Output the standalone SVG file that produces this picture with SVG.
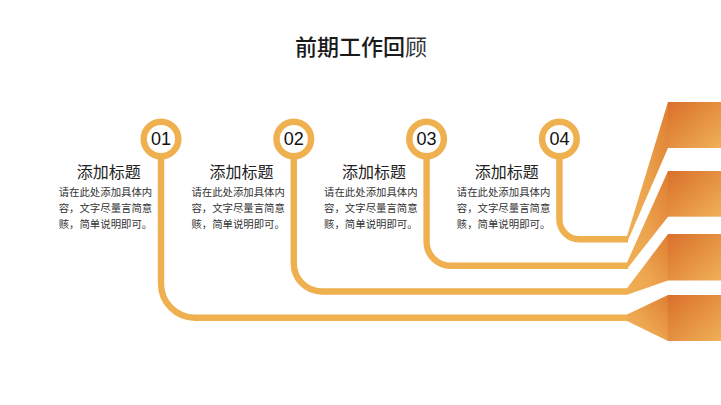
<svg xmlns="http://www.w3.org/2000/svg" width="721" height="405" viewBox="0 0 721 405">
<defs>
<linearGradient id="gBlock" x1="0" y1="0" x2="1" y2="1">
<stop offset="0" stop-color="#D9702A"/>
<stop offset="1" stop-color="#F0B057"/>
</linearGradient>
<linearGradient id="gSide" x1="1" y1="0" x2="0" y2="1">
<stop offset="0" stop-color="#DF7E32"/>
<stop offset="0.6" stop-color="#EDA650"/>
<stop offset="1" stop-color="#F0B055"/>
</linearGradient>
<style>
.ln{fill:none;stroke:#EFB050;stroke-width:6.4}
.ring{fill:#FFFFFF;stroke:#EFB050;stroke-width:6.5}
.num{font-family:"Liberation Sans",Arial,sans-serif;font-size:18px;fill:#111111;text-anchor:middle}
.ttl{font-family:"Noto Sans CJK SC","Noto Sans",sans-serif;font-size:16px;fill:#222222}
.body{font-family:"Noto Sans CJK SC","Noto Sans",sans-serif;font-size:10.4px;fill:#333333}
.blk{fill:url(#gBlock)}
.side{fill:url(#gSide)}
</style>
</defs>
<rect width="721" height="405" fill="#FFFFFF"/>
<text x="361" y="54.5" text-anchor="middle" font-family="'Noto Sans CJK SC','Noto Sans',sans-serif" font-size="22" font-weight="500" fill="#1A1A1A">前期工作回<tspan font-weight="normal" fill="#333333">顾</tspan></text>

<g id="connectors">
<path class="ln" d="M161 150 V283.7 A34 34 0 0 0 195 317.7 H628"/>
<path class="ln" d="M293.8 150 V263.5 A28 28 0 0 0 321.8 291.5 H628"/>
<path class="ln" d="M426.6 150 V241.7 A24 24 0 0 0 450.6 265.7 H628"/>
<path class="ln" d="M559.4 150 V219.3 A20 20 0 0 0 579.4 239.3 H628"/>
</g>

<g id="blocks">
<polygon class="side" points="627,236.1 668,102 668,148 627,242.5"/>
<rect class="blk" x="668" y="102" width="53" height="46"/>
<polygon class="side" points="627,262.5 668,171 668,216.7 627,268.9"/>
<rect class="blk" x="668" y="171" width="53" height="45.7"/>
<polygon class="side" points="627,288.3 668,234 668,280.5 627,294.7"/>
<rect class="blk" x="668" y="234" width="53" height="46.5"/>
<polygon class="side" points="627,314.5 668,295 668,341 627,320.9"/>
<rect class="blk" x="668" y="295" width="53" height="46"/>
</g>

<g id="node1">
<circle class="ring" cx="161" cy="139" r="17.3"/>
<text class="num" x="161" y="145.3">01</text>
<text class="ttl" x="76.7" y="177.5">添加标题</text>
<text class="body" x="58.7" y="196">请在此处添加具体内</text>
<text class="body" x="58.7" y="212">容，文字尽量言简意</text>
<text class="body" x="58.7" y="227.5">赅，简单说明即可。</text>
</g>
<g id="node2">
<circle class="ring" cx="293.8" cy="139" r="17.3"/>
<text class="num" x="293.8" y="145.3">02</text>
<text class="ttl" x="209.4" y="177.5">添加标题</text>
<text class="body" x="191.4" y="196">请在此处添加具体内</text>
<text class="body" x="191.4" y="212">容，文字尽量言简意</text>
<text class="body" x="191.4" y="227.5">赅，简单说明即可。</text>
</g>
<g id="node3">
<circle class="ring" cx="426.6" cy="139" r="17.3"/>
<text class="num" x="426.6" y="145.3">03</text>
<text class="ttl" x="342.1" y="177.5">添加标题</text>
<text class="body" x="324.1" y="196">请在此处添加具体内</text>
<text class="body" x="324.1" y="212">容，文字尽量言简意</text>
<text class="body" x="324.1" y="227.5">赅，简单说明即可。</text>
</g>
<g id="node4">
<circle class="ring" cx="559.4" cy="139" r="17.3"/>
<text class="num" x="559.4" y="145.3">04</text>
<text class="ttl" x="474.8" y="177.5">添加标题</text>
<text class="body" x="456.8" y="196">请在此处添加具体内</text>
<text class="body" x="456.8" y="212">容，文字尽量言简意</text>
<text class="body" x="456.8" y="227.5">赅，简单说明即可。</text>
</g>
</svg>
